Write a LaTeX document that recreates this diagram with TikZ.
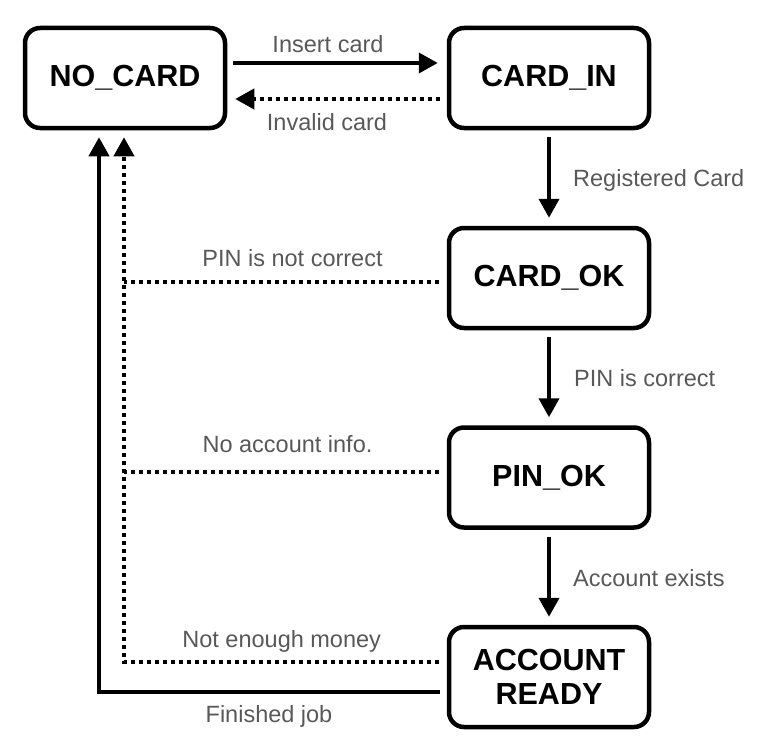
\documentclass[tikz,border=0pt]{standalone}
\usepackage{fontspec}
\setmainfont{Liberation Sans}
\usetikzlibrary{arrows.meta,calc}
\definecolor{lblgray}{RGB}{88,88,88}
\begin{document}
\begin{tikzpicture}[x=1pt,y=-1pt,
  state/.style={draw,line width=4.5pt,rounded corners=15pt,minimum width=200pt,minimum height=100pt,
    outer sep=2.25pt,align=center,inner sep=0pt,font=\fontsize{30.5}{33.5}\selectfont\bfseries},
  conn/.style={line width=4pt,-{Triangle[length=19pt,width=20pt]}},
  plainline/.style={line width=4pt},
  dotline/.style={dash pattern=on 4pt off 4pt},
  lbl/.style={text=lblgray,inner sep=0pt,font=\fontsize{23.5}{26}\selectfont}]
\useasboundingbox (0,0) rectangle (770,752);
% states
\node[state] (nocard) at (125,78) {NO\_CARD};
\node[state] (cardin) at (549,78) {CARD\_IN};
\node[state] (cardok) at (549,278) {CARD\_OK};
\node[state] (pinok) at (549,477.5) {PIN\_OK};
\node[state] (accready) at (549,677) {ACCOUNT\\READY};
% top row
\draw[conn,shorten <=6pt,shorten >=9pt] ($(nocard.east)+(0,-15)$) -- ($(cardin.west)+(0,-15)$);
\draw[conn,dotline,shorten <=7pt,shorten >=8pt] ($(cardin.west)+(0,21)$) -- ($(nocard.east)+(0,21)$);
% vertical chain
\draw[conn,shorten <=7pt,shorten >=8pt] (cardin.south) -- (cardok.north);
\draw[conn,shorten <=7pt,shorten >=8pt] (cardok.south) -- (pinok.north);
\draw[conn,shorten <=7pt,shorten >=8pt] (pinok.south) -- (accready.north);
% returns
\coordinate (cok) at ($(cardok.west)+(0,4)$);
\coordinate (pok) at ($(pinok.west)+(0,-6)$);
\coordinate (acd) at ($(accready.west)+(0,-15)$);
\coordinate (acs) at ($(accready.west)+(0,15)$);
\coordinate (ndot) at ($(nocard.south)+(-1,0)$);
\coordinate (nsol) at ($(nocard.south)+(-26,0)$);
\draw[plainline,dotline,shorten <=8pt] (cok) -- (cok -| ndot);
\draw[plainline,dotline,shorten <=8pt] (pok) -- (pok -| ndot);
\draw[conn,dotline,shorten <=8pt,shorten >=7pt] (acd) -- (acd -| ndot) -- (ndot);
\draw[conn,shorten <=7pt,shorten >=7pt] (acs) -| (nsol);
% labels
\node[lbl,anchor=base] (l1) at (328,52.7) {Insert card};
\node[lbl,anchor=base] (l2) at (327,130) {Invalid card};
\node[lbl,anchor=base west] (l3) at (573,186.7) {Registered Card};
\node[lbl,anchor=base] (l4) at (292.5,266) {PIN is not correct};
\node[lbl,anchor=base west] (l5) at (574,386.7) {PIN is correct};
\node[lbl,anchor=base] (l6) at (287.5,452) {No account info.};
\node[lbl,anchor=base west] (l7) at (573,586.7) {Account exists};
\node[lbl,anchor=base] (l8) at (281.7,647.3) {Not enough money};
\node[lbl,anchor=base] (l9) at (269,722.7) {Finished job};
\end{tikzpicture}
\end{document}
